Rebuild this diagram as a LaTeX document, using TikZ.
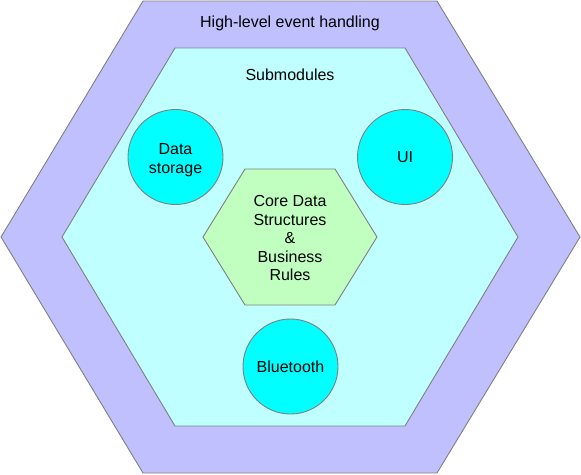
\documentclass[tikz,border=0pt]{standalone}
\usepackage{fontspec}
\setmainfont{Liberation Sans}
\definecolor{outerc}{HTML}{C0C0FF}
\definecolor{innerc}{HTML}{C0FFFF}
\definecolor{circc}{HTML}{00FFFF}
\definecolor{corec}{HTML}{C0FFC0}
\definecolor{edgec}{HTML}{808080}
\begin{document}
\begin{tikzpicture}[x=1pt,y=-1pt,
  region/.style={draw=edgec,line width=0.9pt,line join=miter},
  modcirc/.style={circle,draw=edgec,line width=0.9pt,fill=circc,minimum size=95pt,inner sep=0pt,align=center,font=\fontsize{16}{18.5}\selectfont},
  lbl/.style={font=\fontsize{16}{18.5}\selectfont,align=center,inner sep=0pt}]
\useasboundingbox (0,0) rectangle (581,474);
\draw[region,fill=outerc] (143,1) -- (437,1) -- (580,237) -- (437,473) -- (143,473) -- (1,237) -- cycle;
\draw[region,fill=innerc] (175,48) -- (405,48) -- (518,237) -- (405,426) -- (175,426) -- (62,237) -- cycle;
\draw[region,fill=corec] (245,169) -- (335,169) -- (377,237) -- (335,305) -- (245,305) -- (203,237) -- cycle;
\node[lbl] (outer) at (290,23) {High-level event handling};
\node[lbl] (sub) at (290,75) {Submodules};
\node[modcirc,label={[lbl,yshift=-3pt]center:Data\\storage}] (data) at (175.5,157) {};
\node[modcirc] (ui) at (405,157) {UI};
\node[modcirc] (bt) at (290.5,366.5) {Bluetooth};
\node[lbl] (core) at (290,238) {Core Data\\Structures\\\&\\Business\\Rules};
\end{tikzpicture}
\end{document}
